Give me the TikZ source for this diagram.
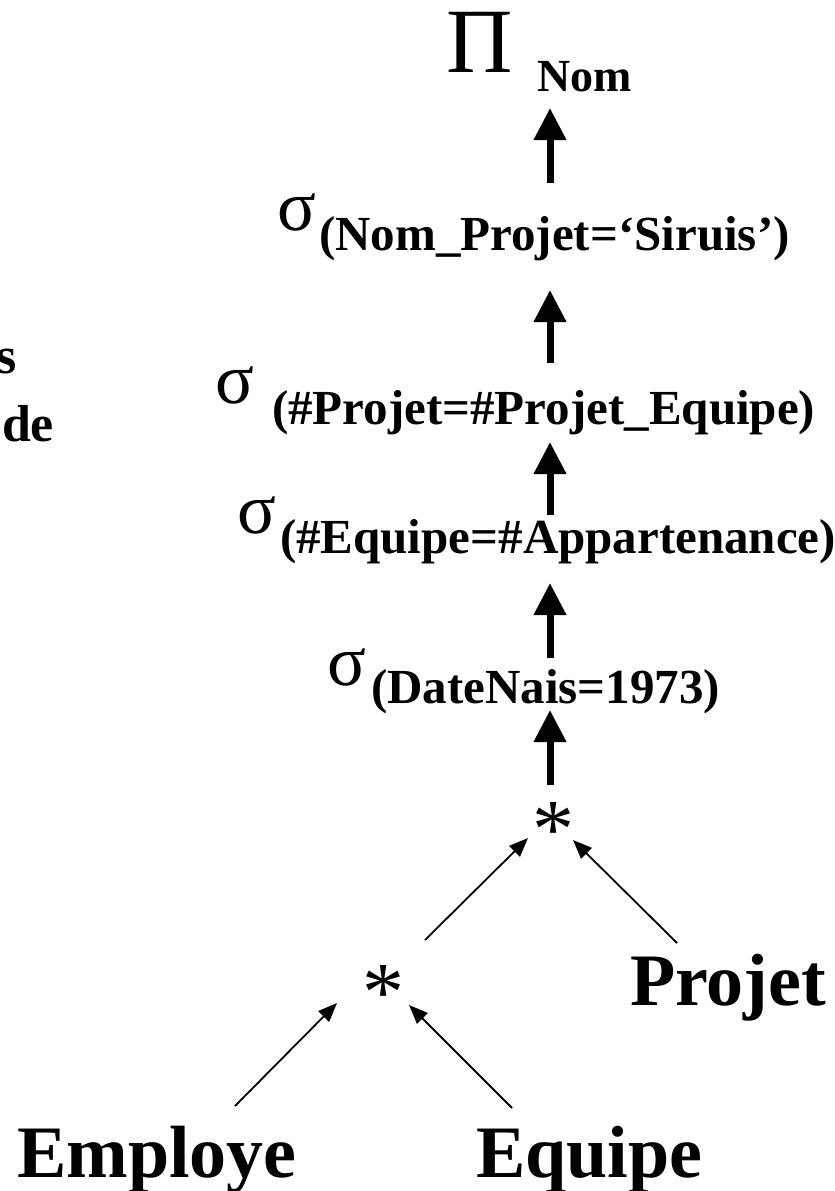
\documentclass[tikz,border=0pt]{standalone}
\usepackage{fontspec}
\setmainfont{Liberation Serif}
\usetikzlibrary{arrows.meta}
\tikzset{
  lbl/.style={inner sep=0pt, outer sep=0pt, anchor=base west},
  grk/.style={lbl, font=\fontsize{72}{72}\selectfont},
  sub/.style={lbl, font=\fontsize{49}{49}\selectfont\bfseries},
  rel/.style={lbl, font=\fontsize{74}{74}\selectfont\bfseries},
  side/.style={lbl, font=\fontsize{52}{52}\selectfont\bfseries},
  star/.style={inner sep=0pt, outer sep=0pt, anchor=base, font=\fontsize{84}{84}\selectfont},
  bigarrow/.style={line width=7pt, -{Triangle[length=32pt,width=31pt]}},
  thinarrow/.style={line width=1.8pt, -{Triangle[length=19pt,width=15pt]}}
}
\begin{document}
\begin{tikzpicture}[x=1pt,y=-1pt]
\useasboundingbox (0,0) rectangle (835,1191);
% side fragments
\node[side] (s1) at (-4,373) {s};
\node[side] (s2) at (2,441) {de};
% projection
\node[lbl, font=\fontsize{92}{92}\selectfont] (pi) at (446,72) {Π};
\node[sub, font=\fontsize{46}{46}\selectfont\bfseries] (pisub) at (537,91) {Nom};
% selections
\node[grk] (sg1) at (277,230) {σ};
\node[sub] (sb1) at (319,250) {(Nom\_Projet=‘Siruis’)};
\node[grk] (sg2) at (215,403) {σ};
\node[sub] (sb2) at (272,424) {(\#Projet=\#Projet\_Equipe)};
\node[grk] (sg3) at (237,533) {σ};
\node[sub] (sb3) at (280,553) {(\#Equipe=\#Appartenance)};
\node[grk] (sg4) at (327,685) {σ};
\node[sub] (sb4) at (371,703) {(DateNais=1973)};
% joins
\node[star] (j1) at (553,857) {*};
\node[star] (j2) at (383,1020) {*};
% relations
\node[rel] (r1) at (17,1177) {Employe};
\node[rel] (r2) at (476,1177) {Equipe};
\node[rel] (r3) at (630,1005) {Projet};
% arrow end points
\coordinate (a1s) at (550,183); \coordinate (a1e) at (550,108);
\coordinate (a2s) at (550,363); \coordinate (a2e) at (550,290);
\coordinate (a3s) at (550,515); \coordinate (a3e) at (550,442);
\coordinate (a4s) at (550,658); \coordinate (a4e) at (550,583);
\coordinate (a5s) at (550,785); \coordinate (a5e) at (550,710);
\coordinate (b1s) at (425,940); \coordinate (b1e) at (528,838);
\coordinate (b2s) at (677,943); \coordinate (b2e) at (573,840);
\coordinate (b3s) at (235,1106); \coordinate (b3e) at (337,1003);
\coordinate (b4s) at (512,1108); \coordinate (b4e) at (409,1005);
\draw[bigarrow] (a1s) -- (a1e);
\draw[bigarrow] (a2s) -- (a2e);
\draw[bigarrow] (a3s) -- (a3e);
\draw[bigarrow] (a4s) -- (a4e);
\draw[bigarrow] (a5s) -- (a5e);
\draw[thinarrow] (b1s) -- (b1e);
\draw[thinarrow] (b2s) -- (b2e);
\draw[thinarrow] (b3s) -- (b3e);
\draw[thinarrow] (b4s) -- (b4e);
\end{tikzpicture}
\end{document}
